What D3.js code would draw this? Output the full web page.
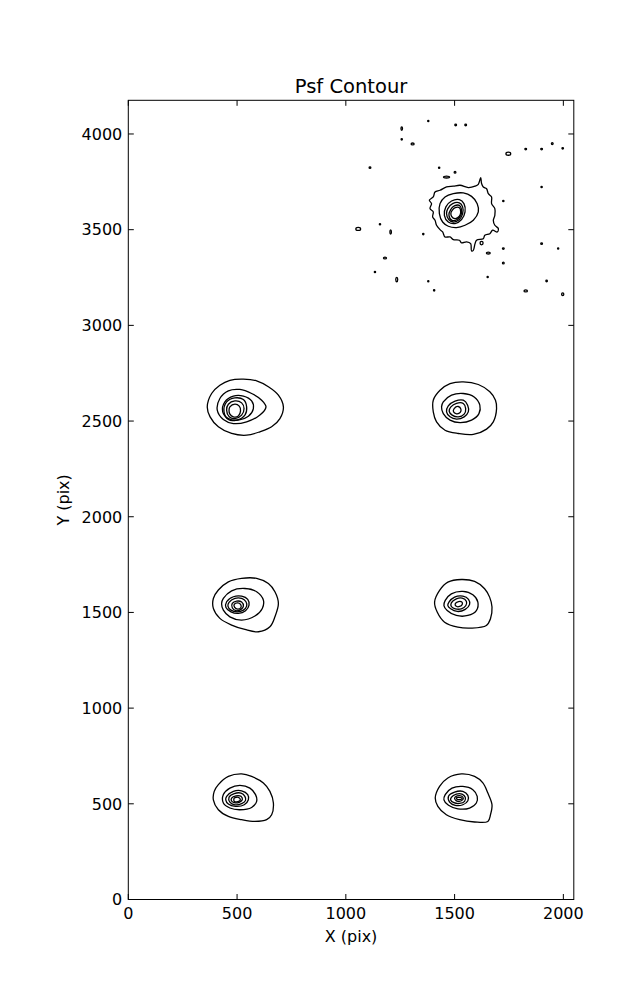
<!DOCTYPE html>
<html><head><meta charset="utf-8">
<script src="https://cdn.jsdelivr.net/npm/d3@7"></script>
<style>body{margin:0;background:#fff}svg{display:block}text{font-family:"DejaVu Sans",sans-serif;fill:#000}</style>
</head><body><svg id="c" width="637" height="1000"></svg>
<script>
// ---- data (detector pixel coordinates) ----
const xTicks = [0, 500, 1000, 1500, 2000];
const yTicks = [0, 500, 1000, 1500, 2000, 2500, 3000, 3500, 4000];
const xDomain = [0, 2048];
const yDomain = [0, 4176];
const title = "Psf Contour", xLabel = "X (pix)", yLabel = "Y (pix)";

// contour rings of each PSF, outer to inner, [x, y] in pixels
const star1 = [
 [[421,2687],[467,2713],[529,2719],[590,2710],[644,2679],[690,2635],[713,2574],[697,2513],[659,2470],[605,2444],[544,2426],[475,2435],[414,2470],[376,2522],[363,2574],[383,2644]],
 [[421,2618],[460,2658],[513,2665],[567,2644],[613,2609],[633,2574],[605,2531],[544,2496],[483,2487],[437,2508],[409,2557]],
 [[444,2600],[483,2630],[529,2630],[567,2605],[575,2565],[552,2525],[506,2505],[460,2513],[434,2548]],
 [[452,2600],[490,2621],[529,2612],[544,2574],[536,2531],[498,2505],[460,2508],[440,2548]],
 [[460,2588],[490,2605],[521,2595],[532,2565],[521,2531],[490,2513],[464,2522],[452,2557]],
 [[467,2574],[490,2588],[510,2578],[516,2553],[506,2527],[483,2522],[467,2536],[463,2557]]
];
const star2 = [
 [[1433,2661],[1479,2696],[1540,2705],[1609,2691],[1662,2653],[1688,2609],[1693,2565],[1678,2496],[1647,2458],[1586,2430],[1517,2435],[1456,2452],[1417,2496],[1402,2548],[1402,2609]],
 [[1448,2600],[1486,2635],[1540,2644],[1590,2626],[1616,2583],[1612,2539],[1578,2505],[1525,2492],[1479,2505],[1448,2539],[1440,2574]],
 [[1471,2579],[1502,2604],[1540,2609],[1560,2583],[1563,2548],[1544,2522],[1509,2510],[1479,2522],[1463,2548]],
 [[1483,2574],[1509,2593],[1540,2592],[1551,2565],[1544,2536],[1517,2522],[1489,2531],[1475,2552]],
 [[1498,2565],[1517,2576],[1529,2562],[1526,2545],[1509,2538],[1495,2548]]
];
const star3 = [
 [[414,1617],[460,1660],[521,1678],[590,1678],[644,1651],[674,1608],[690,1547],[674,1477],[651,1425],[598,1399],[536,1411],[475,1434],[421,1469],[391,1521],[391,1573]],
 [[437,1573],[475,1613],[536,1625],[590,1608],[621,1564],[616,1521],[582,1481],[521,1460],[467,1477],[437,1512],[429,1547]],
 [[452,1556],[483,1582],[521,1585],[549,1568],[555,1538],[539,1509],[506,1495],[472,1503],[449,1526]],
 [[463,1552],[490,1573],[521,1573],[541,1556],[544,1533],[529,1512],[501,1503],[472,1512],[458,1533]],
 [[478,1547],[498,1559],[521,1554],[529,1533],[518,1516],[495,1509],[478,1524]],
 [[487,1542],[503,1550],[516,1542],[518,1526],[503,1517],[489,1526]]
];
const star4 = [
 [[1431,1615],[1469,1658],[1531,1672],[1592,1662],[1638,1624],[1661,1580],[1672,1528],[1665,1467],[1646,1432],[1577,1418],[1515,1423],[1454,1449],[1420,1502],[1408,1554]],
 [[1457,1563],[1485,1597],[1538,1610],[1584,1592],[1607,1554],[1600,1510],[1561,1484],[1508,1484],[1466,1510],[1451,1536]],
 [[1474,1554],[1500,1580],[1538,1585],[1564,1568],[1569,1542],[1549,1516],[1512,1505],[1482,1519],[1469,1536]],
 [[1485,1550],[1508,1571],[1535,1575],[1554,1559],[1552,1536],[1531,1519],[1503,1519],[1485,1531]],
 [[1503,1545],[1518,1557],[1534,1554],[1535,1542],[1523,1531],[1506,1533]]
];
const star5 = [
 [[414,600],[460,643],[521,656],[567,643],[621,609],[651,565],[667,504],[659,443],[636,417],[582,408],[521,417],[460,434],[414,469],[391,521],[395,565]],
 [[437,548],[467,582],[513,596],[559,582],[585,548],[590,513],[567,481],[513,469],[467,478],[437,504]],
 [[452,539],[483,565],[521,568],[549,548],[552,521],[533,495],[493,487],[460,499],[448,521]],
 [[463,534],[487,553],[518,556],[536,539],[539,518],[521,501],[490,495],[467,509]],
 [[475,530],[495,542],[518,539],[524,521],[510,508],[487,506],[474,516]],
 [[487,530],[506,534],[515,521],[503,511],[487,513]]
];
const star6 = [
 [[1431,591],[1469,635],[1531,656],[1592,643],[1630,609],[1653,556],[1672,495],[1665,443],[1653,408],[1592,405],[1523,417],[1462,443],[1423,487],[1411,530]],
 [[1457,548],[1488,582],[1538,591],[1584,574],[1604,539],[1600,504],[1569,478],[1515,474],[1472,492],[1451,521]],
 [[1472,539],[1500,561],[1538,565],[1561,544],[1561,516],[1538,495],[1503,492],[1477,509]],
 [[1485,534],[1508,551],[1534,551],[1549,534],[1546,513],[1523,502],[1497,506],[1482,520]],
 [[1500,530],[1512,541],[1531,541],[1540,528],[1531,516],[1511,514]],
 [[1509,532],[1531,532],[1534,525],[1512,523]]
];
const star7 = [
 [[1433,3706],[1463,3723],[1494,3727],[1525,3732],[1563,3720],[1594,3727],[1609,3737],[1620,3772],[1624,3741],[1632,3723],[1647,3714],[1655,3688],[1670,3671],[1670,3636],[1685,3610],[1685,3575],[1678,3549],[1685,3523],[1701,3506],[1696,3488],[1675,3497],[1662,3479],[1639,3471],[1632,3453],[1601,3445],[1594,3427],[1586,3392],[1578,3389],[1574,3427],[1555,3436],[1532,3431],[1522,3445],[1494,3448],[1479,3462],[1456,3462],[1445,3488],[1433,3500],[1417,3523],[1410,3549],[1399,3567],[1402,3593],[1387,3610],[1394,3636],[1384,3654],[1402,3671],[1410,3697]],
 [[1433,3636],[1456,3671],[1494,3688],[1540,3692],[1578,3674],[1604,3636],[1609,3593],[1586,3549],[1548,3523],[1509,3511],[1471,3518],[1445,3540],[1430,3584]],
 [[1460,3619],[1486,3650],[1522,3657],[1543,3636],[1548,3593],[1532,3553],[1502,3532],[1471,3540],[1453,3575]],
 [[1469,3610],[1491,3636],[1522,3640],[1537,3619],[1537,3584],[1522,3553],[1494,3540],[1473,3553],[1463,3584]],
 [[1482,3605],[1499,3624],[1522,3627],[1532,3605],[1529,3575],[1512,3553],[1488,3549],[1474,3575]],
 [[1489,3601],[1503,3615],[1522,3615],[1528,3593],[1522,3570],[1502,3558],[1486,3570],[1483,3587]]
];
const stars = [star1, star2, star3, star4, star5, star6, star7];

// small noise contours near the top-right star: centre and size in pixels
const blobX = [1257,1379,1505,1551,1257,1307,1747,1827,1900,1949,1997,1111,1429,1502,1463,1900,1724,1057,1157,1206,1356,1624,1655,1724,1724,1900,1976,1180,1134,1234,1379,1652,1406,1827,1923,1997];
const blobY = [4028,4068,4047,4047,3972,3948,3897,3921,3921,3950,3925,3824,3824,3800,3775,3723,3650,3504,3528,3488,3477,3430,3378,3401,3326,3427,3401,3352,3279,3239,3230,3253,3183,3180,3232,3163];
const blobW = [7,4,8,8,6,14,22,8,8,8,7,8,6,8,28,6,6,22,6,7,6,14,18,8,8,8,5,14,6,9,4,4,6,16,7,10];
const blobH = [18,5,8,8,7,10,16,8,8,10,7,8,6,9,10,6,7,16,6,22,8,18,10,8,9,8,5,10,6,22,5,5,7,10,8,14];

// ---- chart ----
const svg = d3.select("#c");
const L = 128.3, R = 573.8, T = 100.3, B = 899.5;
const x = d3.scaleLinear().domain(xDomain).range([L, R]);
const y = d3.scaleLinear().domain(yDomain).range([B, T]);

const g = svg.append("g");
const line = d3.line().x(d => x(d[0])).y(d => y(d[1])).curve(d3.curveCatmullRomClosed.alpha(0.5));
stars.forEach(rings => {
  g.selectAll(null).data(rings).enter().append("path")
    .attr("d", line).attr("fill", "none").attr("stroke", "#000").attr("stroke-width", 1.3)
    .attr("stroke-linejoin", "round");
});
g.selectAll("ellipse.b").data(blobX).enter().append("ellipse")
  .attr("cx", (d, i) => x(d)).attr("cy", (d, i) => y(blobY[i]))
  .attr("rx", (d, i) => Math.max(0.6, (x(blobW[i]) - x(0)) / 2))
  .attr("ry", (d, i) => Math.max(0.6, (y(0) - y(blobH[i])) / 2))
  .attr("fill", "none").attr("stroke", "#000").attr("stroke-width", 1.3);

// frame
svg.append("rect").attr("x", L).attr("y", T).attr("width", R - L).attr("height", B - T)
  .attr("fill", "none").attr("stroke", "#000").attr("stroke-width", 1);

const tk = 5.5;
const ax = svg.append("g");
xTicks.forEach(v => {
  ax.append("line").attr("x1", x(v)).attr("x2", x(v)).attr("y1", B).attr("y2", B - tk).attr("stroke", "#000");
  ax.append("line").attr("x1", x(v)).attr("x2", x(v)).attr("y1", T).attr("y2", T + tk).attr("stroke", "#000");
  ax.append("text").attr("x", x(v)).attr("y", 919).attr("text-anchor", "middle").attr("font-size", 16).text(v);
});
yTicks.forEach(v => {
  ax.append("line").attr("x1", L).attr("x2", L + tk).attr("y1", y(v)).attr("y2", y(v)).attr("stroke", "#000");
  ax.append("line").attr("x1", R).attr("x2", R - tk).attr("y1", y(v)).attr("y2", y(v)).attr("stroke", "#000");
  ax.append("text").attr("x", L - 6).attr("y", y(v)).attr("dy", "0.36em").attr("text-anchor", "end").attr("font-size", 16).text(v);
});
svg.append("text").attr("x", (L + R) / 2).attr("y", 93).attr("text-anchor", "middle").attr("font-size", 19.5).text(title);
svg.append("text").attr("x", (L + R) / 2).attr("y", 942).attr("text-anchor", "middle").attr("font-size", 16).text(xLabel);
svg.append("text").attr("transform", `translate(69,${(T + B) / 2}) rotate(-90)`).attr("text-anchor", "middle").attr("font-size", 16).text(yLabel);
</script></body></html>
